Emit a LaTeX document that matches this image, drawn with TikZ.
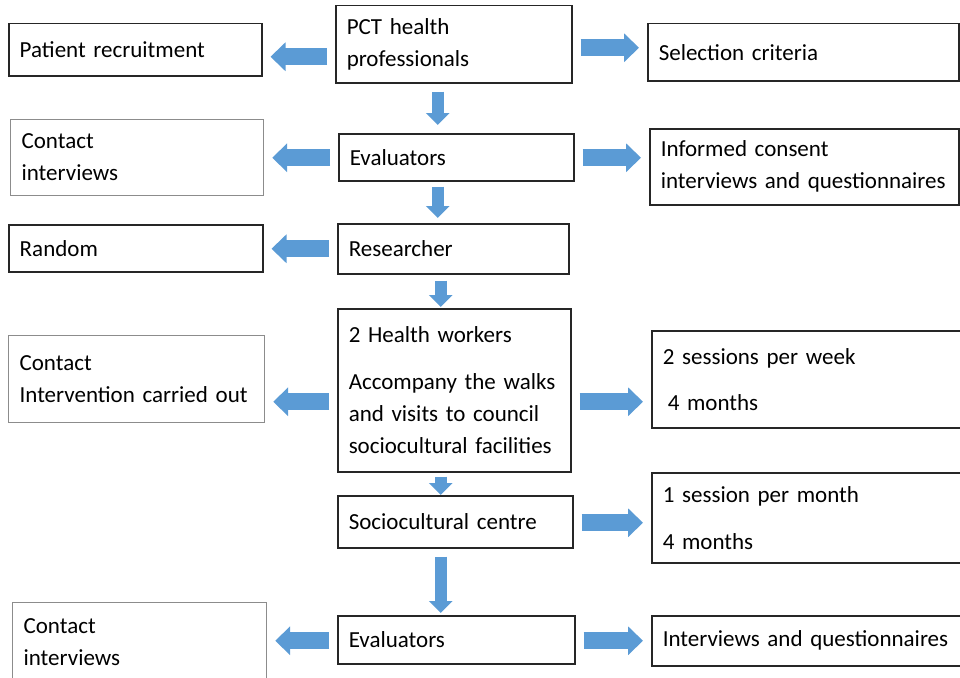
\documentclass[tikz,border=0pt]{standalone}
\usepackage{fontspec}
\setmainfont{Carlito}
\usepackage{tikz}
\usetikzlibrary{arrows.meta}

\definecolor{arrowblue}{HTML}{5B9BD5}
\definecolor{boxline}{HTML}{262626}
\definecolor{paleline}{HTML}{8C8C8C}

\tikzset{
  box/.style 2 args={draw=boxline, line width=1.5pt, rectangle, anchor=north west,
    minimum width=#1, minimum height=#2, text width={#1-22pt},
    inner xsep=11pt, inner ysep=0pt, align=left,
    font=\fontsize{23}{32}\selectfont},
  pale/.style={draw=paleline, line width=1.2pt},
  flow/.style={draw=arrowblue, line width=17pt, -{Triangle[length=15pt,width=28pt]},
    shorten <=8pt, shorten >=8pt},
  drop/.style={draw=arrowblue, line width=12pt, -{Triangle[length=12pt,width=23pt]}}
}

\begin{document}
\begin{tikzpicture}[x=1pt, y=-1pt]
        \useasboundingbox (0,0) rectangle (960,677);

        % middle column
        \node[box={236}{77}] (pct) at (335,5) {PCT health\\professionals};
        \node[box={235}{47}] (evalA) at (338,133) {Evaluators};
        \node[box={231}{50}] (researcher) at (337,223) {Researcher};
        \node[box={233}{163}] (workers) at (337,308)
          {2 Health workers\\[15pt]Accompany the walks\\and visits to council\\sociocultural facilities};
        \node[box={235}{52}] (centre) at (337,495) {Sociocultural centre};
        \node[box={237}{48}] (evalB) at (337,615) {Evaluators};

        % left column
        \node[box={253}{52}] (recruit) at (8,23) {Patient recruitment};
        \node[box={253}{76}, pale] (contactA) at (10,119) {Contact\\interviews};
        \node[box={254}{47}] (random) at (8,224) {Random};
        \node[box={256}{87}, pale] (contactB) at (8,335) {Contact\\Intervention carried out};
        \node[box={254}{80}, pale] (contactC) at (12,602) {Contact\\interviews};

        % right column
        \node[box={311}{57}] (criteria) at (647,23) {Selection criteria};
        \node[box={309}{76}] (consent) at (649,128)
          {Informed consent\\interviews and questionnaires};
        \node[box={312}{97}] (sessions) at (651,330)
          {2 sessions per week\\[14pt]\hspace*{5pt}4 months};
        \node[box={312}{90}] (monthly) at (651,472)
          {1 session per month\\[15pt]4 months};
        \node[box={312}{50}] (interviews) at (651,615) {Interviews and questionnaires};

        % arrows to the left
        \foreach \from/\to/\dy in {pct/recruit/-12.5pt, evalA/contactA/-0.5pt,
            researcher/random/0pt, workers/contactB/-11.5pt, evalB/contactC/-1pt} {
          \coordinate (s) at ([yshift=\dy]\from.west);
          \draw[flow] (s) -- (s -| \to.east);
        }

        % arrows to the right
        \foreach \from/\to/\dy in {pct/criteria/-3.5pt, evalA/consent/-0.5pt,
            workers/sessions/-11.5pt, centre/monthly/-1pt, evalB/interviews/-1pt} {
          \coordinate (s) at ([yshift=\dy]\from.east);
          \draw[flow] (s) -- (s -| \to.west);
        }

        % arrows down the middle
        \foreach \from/\to/\dx/\a/\b in {pct/evalA/-16pt/8pt/8pt,
            evalA/researcher/-18.5pt/5pt/5pt, researcher/workers/-12.5pt/6pt/1pt,
            workers/centre/-13.5pt/4pt/0pt, centre/evalB/-14.5pt/8pt/2pt} {
          \coordinate (s) at ([xshift=\dx]\from.south);
          \draw[drop, shorten <=\a, shorten >=\b] (s) -- (s |- \to.north);
        }
      \end{tikzpicture}
\end{document}
